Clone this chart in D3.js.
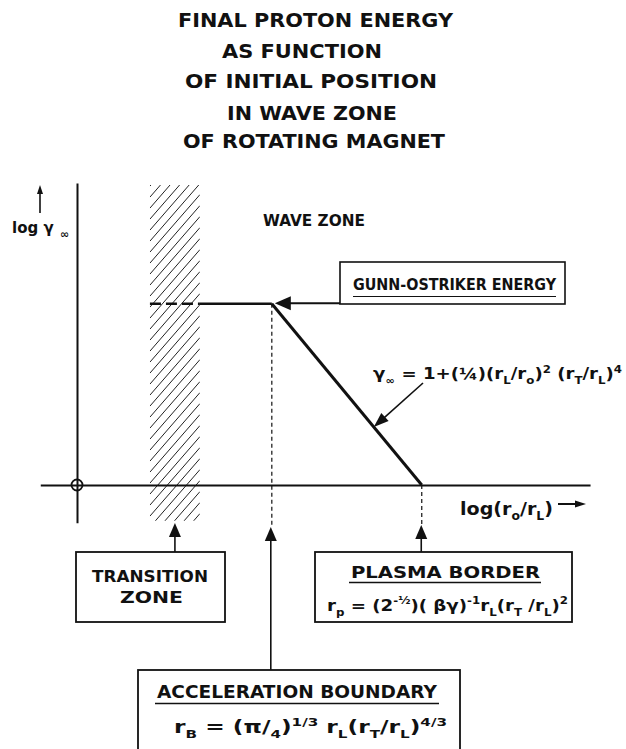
<!DOCTYPE html>
<html>
<head>
<meta charset="utf-8">
<script src="https://cdn.jsdelivr.net/npm/d3@7"></script>
<style>
  body { margin: 0; background: #fff; }
  svg { display: block; }
  text { font-family: "DejaVu Sans", sans-serif; font-weight: bold; fill: #111; }
</style>
</head>
<body>
<script>
// values (x in log(r0/rL) units, y in log gamma units)
var titleLines = ['FINAL PROTON ENERGY', 'AS FUNCTION', 'OF INITIAL POSITION', 'IN WAVE ZONE', 'OF ROTATING MAGNET'];
var zoneX = [1.43, 2.41];                 // hatched transition zone
var energyX = [1.43, 2.41, 3.82, 6.76];   // final energy curve
var energyY = [6, 6, 6, 0];
var markerX = [1.92, 3.80, 6.75];         // transition, acceleration, plasma pointers
var xAxisExtent = [-0.72, 10.06];
var yAxisExtent = [-1.25, 10];

var width = 626, height = 749;
var svg = d3.select('body').append('svg').attr('width', width).attr('height', height);

var x = d3.scaleLinear().domain([0, 10]).range([77, 587]);
var y = d3.scaleLinear().domain([0, 10]).range([485, 183]);

function rich(g, x0, y0, parts, size, len, anchor) {
  var t = g.append('text').attr('x', x0).attr('y', y0).style('font-size', size + 'px');
  if (anchor) t.attr('text-anchor', anchor);
  var shift = 0;
  parts.forEach(function(p) {
    var m = p[1] || '';
    var target = m === 'sub' ? size * 0.3 : m === 'sup' ? -size * 0.42 : 0;
    t.append('tspan').attr('dy', target - shift)
      .style('font-size', (m ? size * 0.65 : size) + 'px').text(p[0]);
    shift = target;
  });
  if (len) t.attr('textLength', len).attr('lengthAdjust', 'spacingAndGlyphs');
  return t;
}

function arrowHead(px, py, angle, len, half) {
  // angle = direction the arrow points to, in radians
  var c = Math.cos(angle), s = Math.sin(angle);
  var bx = px - c * len, by = py - s * len;
  svg.append('path')
    .attr('d', 'M' + px + ',' + py + 'L' + (bx - s * half) + ',' + (by + c * half) +
               'L' + (bx + s * half) + ',' + (by - c * half) + 'Z')
    .attr('fill', '#111');
}

function line(x1, y1, x2, y2, w, dash) {
  var l = svg.append('line').attr('x1', x1).attr('y1', y1).attr('x2', x2).attr('y2', y2)
    .attr('stroke', '#111').attr('stroke-width', w);
  if (dash) l.attr('stroke-dasharray', dash);
  return l;
}

// title
var titleBox = [[178, 453, 27], [222, 382, 58], [185, 437, 88], [227, 397, 120], [183, 445, 148]];
titleLines.forEach(function(t, i) {
  svg.append('text').attr('x', titleBox[i][0]).attr('y', titleBox[i][2])
    .attr('textLength', titleBox[i][1] - titleBox[i][0]).attr('lengthAdjust', 'spacingAndGlyphs')
    .style('font-size', '19px').text(t);
});

// hatched transition zone
var hx0 = x(zoneX[0]), hx1 = x(zoneX[1]), hy0 = y(9.93), hy1 = y(-1.18);
svg.append('clipPath').attr('id', 'zone').append('rect')
  .attr('x', hx0).attr('y', hy0).attr('width', hx1 - hx0).attr('height', hy1 - hy0);
var hatch = svg.append('g').attr('clip-path', 'url(#zone)');
d3.range(hy0 - 10, hy1 + 70, 11).forEach(function(k) {
  hatch.append('line').attr('x1', hx0).attr('y1', k).attr('x2', hx1).attr('y2', k - (hx1 - hx0) * 1.15)
    .attr('stroke', '#222').attr('stroke-width', 1);
});

// axes
var xa = x.copy().domain(xAxisExtent).range(xAxisExtent.map(x));
var ya = y.copy().domain(yAxisExtent).range(yAxisExtent.map(y));
svg.append('g').attr('transform', 'translate(0,' + y(0) + ')')
  .call(d3.axisBottom(xa).tickValues([]).tickSizeOuter(0))
  .select('.domain').attr('stroke', '#111').attr('stroke-width', 2);
svg.append('g').attr('transform', 'translate(' + x(0) + ',0)')
  .call(d3.axisLeft(ya).tickValues([]).tickSizeOuter(0))
  .select('.domain').attr('stroke', '#111').attr('stroke-width', 2);
svg.append('circle').attr('cx', x(0)).attr('cy', y(0)).attr('r', 5.5)
  .attr('fill', 'none').attr('stroke', '#111').attr('stroke-width', 1.8);

// energy curve
var pts = energyX.map(function(d, i) { return [x(d), y(energyY[i])]; });
var lineGen = d3.line();
svg.append('path').attr('d', lineGen(pts.slice(0, 2))).attr('fill', 'none')
  .attr('stroke', '#111').attr('stroke-width', 2.5).attr('stroke-dasharray', '11,5');
svg.append('path').attr('d', lineGen(pts.slice(1, 3))).attr('fill', 'none')
  .attr('stroke', '#111').attr('stroke-width', 2.5);
svg.append('path').attr('d', lineGen(pts.slice(2))).attr('fill', 'none')
  .attr('stroke', '#111').attr('stroke-width', 3);

// vertical dashed guides
line(x(energyX[2]), y(energyY[2]), x(energyX[2]), 527, 1.2, '4,3');
line(x(energyX[3]), y(0), x(energyX[3]), 525, 1.2, '4,3');

// axis labels
line(40, 213, 40, 190, 1.6);
arrowHead(40, 185, -Math.PI / 2, 9, 3);
svg.append('text').attr('x', 12).attr('y', 233).style('font-size', '15px').text('log γ');
svg.append('text').attr('x', 60).attr('y', 238).style('font-size', '11px').text('∞');
rich(svg, 460, 515, [['log(r'], ['o', 'sub'], ['/r'], ['L', 'sub'], [')']], 18, 93);
line(558, 504, 576, 504, 2);
arrowHead(586, 504, 0, 11, 3.5);

svg.append('text').attr('x', 263).attr('y', 226).attr('textLength', 102)
  .attr('lengthAdjust', 'spacingAndGlyphs').style('font-size', '16px').text('WAVE ZONE');

// Gunn-Ostriker box
svg.append('rect').attr('x', 340).attr('y', 262).attr('width', 225).attr('height', 42)
  .attr('fill', 'none').attr('stroke', '#111').attr('stroke-width', 1.6);
svg.append('text').attr('x', 353).attr('y', 290).attr('textLength', 203)
  .attr('lengthAdjust', 'spacingAndGlyphs').style('font-size', '15px').text('GUNN-OSTRIKER ENERGY');
line(353, 296.5, 556, 296.5, 1.2);
line(340, y(6) - 0.5, x(energyX[2]) + 16, y(6) - 0.5, 2);
arrowHead(x(energyX[2]) + 3, y(6) - 0.5, Math.PI, 16, 7);

// formula for the falling branch
rich(svg, 373, 379, [['γ'], ['∞', 'sub'], [' = 1+(¼)(r'], ['L', 'sub'], ['/r'], ['o', 'sub'], [')'], ['2', 'sup'],
  [' (r'], ['T', 'sub'], ['/r'], ['L', 'sub'], [')'], ['4', 'sup']], 15, 249);
var tipT = 0.68;
var tipX = pts[2][0] + (pts[3][0] - pts[2][0]) * tipT, tipY = pts[2][1] + (pts[3][1] - pts[2][1]) * tipT;
var ang = Math.atan2(tipY - 383, tipX - 423);
line(423, 383, tipX - Math.cos(ang) * 10, tipY - Math.sin(ang) * 10, 1.6);
arrowHead(tipX, tipY, ang, 15, 5.5);

// bottom boxes
function box(x0, y0, w, h) {
  svg.append('rect').attr('x', x0).attr('y', y0).attr('width', w).attr('height', h)
    .attr('fill', 'none').attr('stroke', '#111').attr('stroke-width', 1.8);
}
function pointer(px, from, tip) {
  line(px, from, px, tip + 10, 1.6);
  arrowHead(px, tip, -Math.PI / 2, 14, 6);
}

// transition zone
box(76, 552, 149, 70);
pointer(x(markerX[0]), 552, 523);
svg.append('text').attr('x', 92).attr('y', 582).attr('textLength', 116)
  .attr('lengthAdjust', 'spacingAndGlyphs').style('font-size', '16px').text('TRANSITION');
svg.append('text').attr('x', 120).attr('y', 603).attr('textLength', 63)
  .attr('lengthAdjust', 'spacingAndGlyphs').style('font-size', '16px').text('ZONE');

// plasma border
box(315, 552, 257, 70);
pointer(x(markerX[2]), 552, 525);
svg.append('text').attr('x', 351).attr('y', 578).attr('textLength', 189)
  .attr('lengthAdjust', 'spacingAndGlyphs').style('font-size', '16px').text('PLASMA BORDER');
line(349, 582.5, 541, 582.5, 1.3);
rich(svg, 327, 611, [['r'], ['p', 'sub'], [' = (2'], ['-½', 'sup'], [')( βγ)'], ['-1', 'sup'], ['r'], ['L', 'sub'],
  ['(r'], ['T', 'sub'], [' /r'], ['L', 'sub'], [')'], ['2', 'sup']], 16, 241);

// acceleration boundary
box(138, 670, 322, 90);
pointer(x(markerX[1]), 670, 527);
svg.append('text').attr('x', 157).attr('y', 698).attr('textLength', 280)
  .attr('lengthAdjust', 'spacingAndGlyphs').style('font-size', '17px').text('ACCELERATION BOUNDARY');
line(155, 703.5, 439, 703.5, 1.3);
rich(svg, 174, 733, [['r'], ['B', 'sub'], [' = (π/'], ['4', 'sub'], [')'], ['1/3', 'sup'], [' r'], ['L', 'sub'],
  ['(r'], ['T', 'sub'], ['/r'], ['L', 'sub'], [')'], ['4/3', 'sup']], 17, 273);
</script>
</body>
</html>
